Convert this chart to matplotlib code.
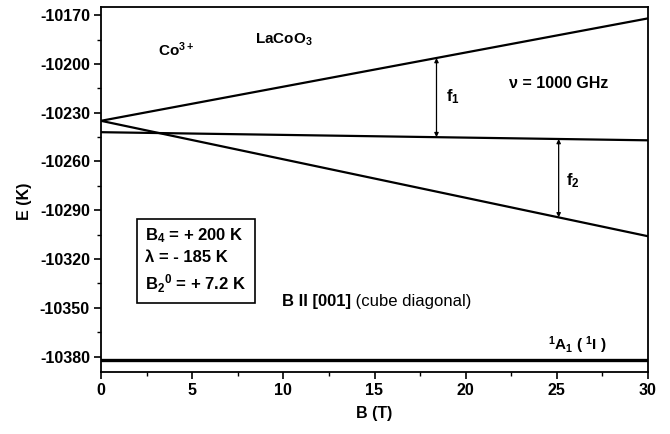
import numpy as np
import matplotlib
matplotlib.use("Agg")
import matplotlib.pyplot as plt

plt.rcParams['font.family'] = ['Liberation Sans', 'DejaVu Sans']
plt.rcParams['font.weight'] = 'bold'
plt.rcParams['axes.unicode_minus'] = False
plt.rcParams['mathtext.fontset'] = 'custom'
plt.rcParams['mathtext.rm'] = 'Liberation Sans:bold'
plt.rcParams['mathtext.it'] = 'Liberation Sans:bold'
plt.rcParams['mathtext.bf'] = 'Liberation Sans:bold'

# Data
B = [0, 30]
E_upper = [-10235, -10172]
E_lower = [-10235, -10306]
E_flat = [-10242, -10247]
E_ground = [-10382, -10382]
arrow_B = [18.4, 25.1]
xticks = [0, 5, 10, 15, 20, 25, 30]
yticks = [-10380, -10350, -10320, -10290, -10260, -10230, -10200, -10170]

fig = plt.figure(figsize=(6.7, 4.34), dpi=100)
ax = fig.add_axes([101/670, 1 - 372/434, (648-101)/670, (372-7)/434])

lw = 1.6
ax.plot(B, E_upper, color='black', lw=lw)
ax.plot(B, E_lower, color='black', lw=lw)
ax.plot(B, E_flat, color='black', lw=lw)
ax.plot(B, E_ground, color='black', lw=2.4)

# arrows f1 (upper - flat) and f2 (flat - lower)
b1, b2 = arrow_B
y1a = np.interp(b1, B, E_upper); y1b = np.interp(b1, B, E_flat)
y2a = np.interp(b2, B, E_flat); y2b = np.interp(b2, B, E_lower)
for bb, ya, yb in [(b1, y1a, y1b), (b2, y2a, y2b)]:
    ax.annotate('', xy=(bb, ya), xytext=(bb, yb),
                arrowprops=dict(arrowstyle='<|-|>', color='black', lw=0.9,
                                mutation_scale=6, shrinkA=0, shrinkB=0))

ax.set_xlim(0, 30)
ax.set_ylim(-10389.5, -10165)
ax.set_xticks(xticks)
ax.set_yticks(yticks)
ax.set_xticks(np.arange(2.5, 30, 5), minor=True)
ax.set_yticks(np.arange(-10365, -10165, 30), minor=True)
ax.tick_params(which='major', direction='out', length=5, width=1.2, labelsize=11.5, pad=3)
ax.tick_params(which='minor', direction='out', length=3, width=1.0)
for lab in ax.get_xticklabels() + ax.get_yticklabels():
    lab.set_fontweight('bold')
for s in ax.spines.values():
    s.set_linewidth(1.3)

ax.set_xlabel('B (T)', fontsize=11.5, fontweight='bold', labelpad=6)
ax.set_ylabel('E (K)', fontsize=11.5, fontweight='bold')
ax.yaxis.set_label_coords(-0.126, 0.468)

ax.text(3.1, -10191, 'Co$^{3+}$', fontsize=11, ha='left', va='center')
ax.text(8.45, -10185, 'LaCoO$_3$', fontsize=11, ha='left', va='center')
ax.text(22.35, -10212, 'ν = 1000 GHz', fontsize=11.5, ha='left', va='center')
ax.text(18.9, -10220, 'f$_1$', fontsize=12, ha='left', va='center')
ax.text(25.5, -10272, 'f$_2$', fontsize=12, ha='left', va='center')

box_text = 'B$_4$ = + 200 K\nλ = - 185 K\nB$_2$$^0$ = + 7.2 K'
ax.text(5.2, -10321, box_text, fontsize=12, ha='center', va='center',
        multialignment='left', linespacing=1.42,
        bbox=dict(boxstyle='square,pad=0.5', fc='white', ec='black', lw=1.2))

t = ax.text(9.9, -10346, 'B II [001]', fontsize=12, ha='left', va='center')
ax.annotate(' (cube diagonal)', xycoords=t, xy=(1, 0.5), va='center', ha='left',
            fontsize=12, fontweight='normal')

ax.text(24.5, -10373, '$^1$A$_1$ ( $^1$I )', fontsize=11, ha='left', va='center')

fig.savefig('out.png', dpi=100)
